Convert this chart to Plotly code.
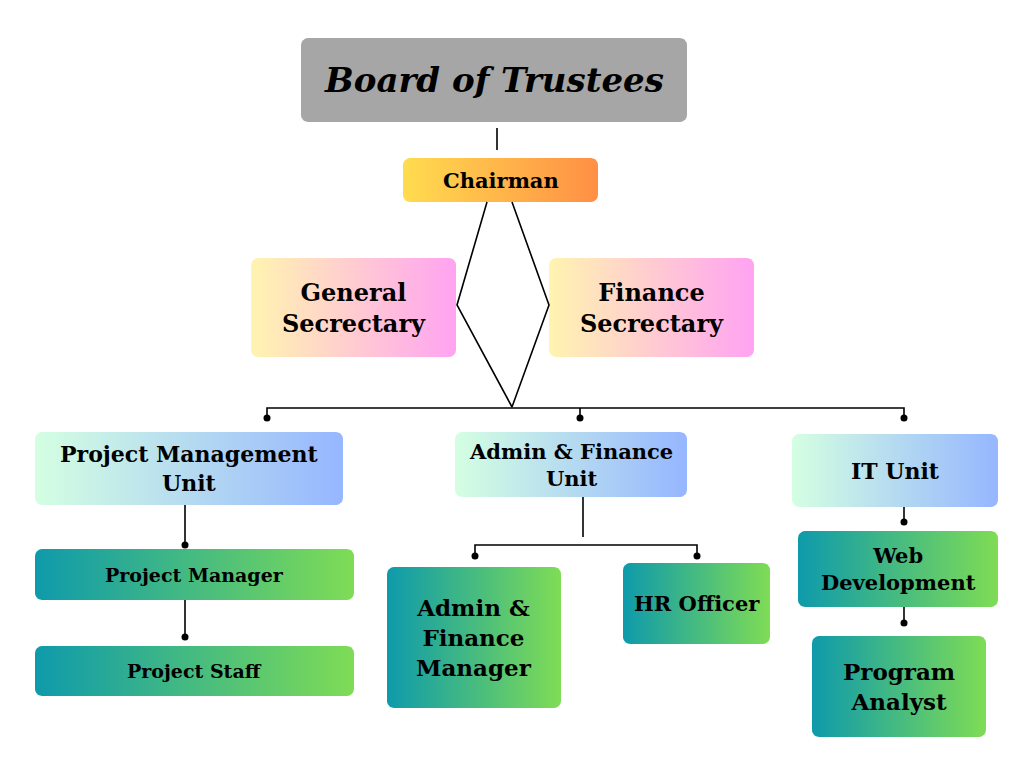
import numpy as np
import plotly.graph_objects as go

# node labels and the colour pair (left, right) used for each box
labels = ["<i>Board of Trustees</i>", "Chairman", "General<br>Secrectary", "Finance<br>Secrectary",
          "Project Management<br>Unit", "Admin & Finance<br>Unit", "IT Unit",
          "Project Manager", "Project Staff", "Admin &<br>Finance<br>Manager", "HR Officer",
          "Web<br>Development", "Program<br>Analyst"]
font_sizes = [34, 21, 24, 24, 22, 21, 22, 19, 19, 23, 21, 21, 23]
grey = ("#a6a6a6", "#a6a6a6")
gold = ("#ffdc4f", "#ff8f45")
pastel = ("#fff4b0", "#ffa3f2")
mint = ("#d4ffe2", "#96b6ff")
teal = ("#0e9aab", "#7fdc55")
colors = [grey, gold, pastel, pastel, mint, mint, mint, teal, teal, teal, teal, teal, teal]

# box extents in page pixels (x0, y0, x1, y1)
boxes = [(301, 38, 687, 122), (403, 158, 598, 202), (251, 258, 456, 357), (549, 258, 754, 357),
         (35, 432, 343, 505), (455, 432, 687, 497), (792, 434, 998, 507),
         (35, 549, 354, 600), (35, 646, 354, 696), (387, 567, 561, 708), (623, 563, 770, 644),
         (798, 531, 998, 607), (812, 636, 986, 737)]

# connector polylines
links = [[(497, 128), (497, 150)],
         [(487, 202), (457, 305), (512, 407), (549, 305), (512, 202)],
         [(267, 418), (267, 408), (904, 408), (904, 418)],
         [(580, 408), (580, 418)],
         [(583, 497), (583, 537)], [(475, 556), (475, 545), (697, 545), (697, 556)],
         [(185, 505), (185, 545)], [(185, 600), (185, 637)],
         [(904, 507), (904, 522)], [(904, 607), (904, 623)]]
dots = [(267, 418), (580, 418), (904, 418), (475, 556), (697, 556), (185, 545), (185, 637),
        (904, 522), (904, 623)]


def rounded_rect(x0, y0, x1, y1, r=7):
    xs, ys = [], []
    for cx, cy, a0 in [(x1 - r, y0 + r, -90), (x1 - r, y1 - r, 0), (x0 + r, y1 - r, 90), (x0 + r, y0 + r, 180)]:
        t = np.radians(np.linspace(a0, a0 + 90, 8))
        xs += list(cx + r * np.cos(t))
        ys += list(cy + r * np.sin(t))
    return xs + xs[:1], ys + ys[:1]


fig = go.Figure()
for (x0, y0, x1, y1), (c0, c1) in zip(boxes, colors):
    xs, ys = rounded_rect(x0, y0, x1, y1)
    fig.add_trace(go.Scatter(x=xs, y=ys, mode="lines", fill="toself", line=dict(width=0),
                             fillgradient=dict(type="horizontal", colorscale=[[0, c0], [1, c1]]),
                             hoverinfo="skip"))
for pts in links:
    fig.add_trace(go.Scatter(x=[p[0] for p in pts], y=[p[1] for p in pts], mode="lines",
                             line=dict(color="black", width=1.6), hoverinfo="skip"))
fig.add_trace(go.Scatter(x=[d[0] for d in dots], y=[d[1] for d in dots], mode="markers",
                         marker=dict(color="black", size=7), hoverinfo="skip"))

for (x0, y0, x1, y1), text, fs in zip(boxes, labels, font_sizes):
    fig.add_annotation(x=(x0 + x1) / 2, y=(y0 + y1) / 2, text="<b>" + text + "</b>", showarrow=False,
                       font=dict(family="DejaVu Serif", size=fs, color="black"))

# page body has an 8px margin, so shift the ranges to line up with the page
fig.update_layout(width=1024, height=768, margin=dict(l=0, r=0, t=0, b=0), showlegend=False,
                  plot_bgcolor="white", paper_bgcolor="white",
                  xaxis=dict(range=[8, 1032], visible=False),
                  yaxis=dict(range=[776, 8], visible=False))
fig.write_html("out.html")
